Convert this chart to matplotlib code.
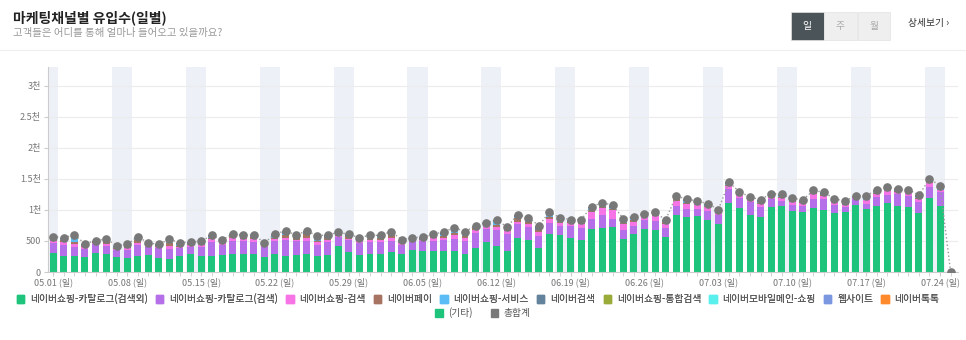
import matplotlib.pyplot as plt
import numpy as np
from matplotlib.patches import Patch, Rectangle
from matplotlib.lines import Line2D

plt.rcParams['font.family'] = ['Noto Sans CJK KR', 'DejaVu Sans']

# daily values 05.01 ~ 07.25
green = [310, 258, 258, 247, 306, 296, 247, 226, 263, 280, 231, 215, 253, 285, 263, 263, 280, 296, 285, 290, 247,
         285, 258, 280, 285, 263, 280, 414, 317, 280, 285, 296, 323, 285, 360, 344, 339, 339, 339, 296, 387, 484, 414,
         344, 543, 516, 387, 607, 591, 548, 511, 688, 704, 726, 532, 607, 694, 683, 559, 925, 892, 903, 839, 774,
         1113, 1032, 914, 892, 1048, 1059, 984, 962, 1032, 1005, 952, 968, 1081, 1016, 1064, 1113, 1064, 1048, 957, 1193, 1064,
         0]
purple = [150, 183, 150, 120, 140, 130, 103, 129, 178, 123, 156, 161, 129, 118, 140, 221, 150, 209, 210, 199, 151,
          210, 253, 215, 220, 178, 209, 145, 194, 182, 204, 188, 182, 156, 145, 151, 166, 177, 199, 199, 242, 204, 258,
          269, 231, 204, 188, 183, 151, 188, 193, 167, 215, 129, 145, 135, 150, 145, 156, 134, 124, 113, 145, 145,
          226, 156, 209, 151, 129, 80, 102, 108, 145, 167, 134, 75, 91, 86, 145, 134, 190, 183, 177, 178, 221,
          0]
pink = [45, 43, 42, 37, 22, 32, 26, 32, 32, 22, 16, 43, 27, 32, 38, 48, 43, 49, 37, 38, 32,
        32, 43, 27, 38, 37, 33, 27, 27, 33, 33, 38, 49, 32, 27, 27, 49, 38, 53, 59, 54, 54, 48,
        54, 38, 60, 65, 65, 43, 54, 70, 118, 108, 145, 92, 70, 43, 70, 65, 86, 75, 75, 59, 32,
        43, 59, 33, 54, 43, 54, 48, 43, 75, 48, 38, 43, 27, 54, 49, 54, 40, 54, 49, 59, 27,
        0]
brown = [30, 35, 30, 15, 15, 27, 16, 20, 43, 15, 10, 43, 15, 10, 10, 20, 10, 25, 20, 30, 5,
         25, 43, 25, 70, 20, 25, 25, 37, 25, 15, 30, 45, 10, 5, 10, 20, 25, 30, 30, 25, 20, 40,
         15, 59, 30, 30, 30, 25, 10, 15, 30, 25, 10, 15, 25, 10, 20, 25, 25, 15, 10, 25, 10,
         20, 15, 15, 10, 15, 10, 20, 10, 20, 15, 10, 30, 10, 10, 15, 20, 10, 10, 15, 20, 10,
         0]
lightblue = [10, 10, 85, 5, 5, 25, 5, 5, 10, 5, 5, 20, 20, 5, 5, 5, 5, 5, 15, 5, 15,
             20, 10, 5, 5, 40, 5, 5, 5, 5, 20, 5, 10, 10, 5, 5, 5, 15, 55, 10, 10, 10, 45,
             10, 10, 15, 10, 25, 10, 10, 10, 20, 15, 25, 25, 10, 10, 5, 5, 10, 30, 20, 10, 10,
             10, 10, 10, 20, 5, 15, 10, 10, 10, 10, 20, 5, 5, 25, 10, 10, 5, 5, 10, 15, 35,
             0]
slate = [25, 25, 35, 30, 17, 22, 28, 34, 40, 23, 28, 45, 25, 34, 39, 34, 28, 29, 24, 40, 18,
         43, 54, 45, 38, 48, 45, 24, 27, 29, 34, 34, 41, 28, 12, 22, 28, 56, 34, 56, 29, 24, 28,
         34, 38, 51, 67, 52, 56, 34, 45, 25, 51, 40, 51, 45, 34, 39, 28, 40, 41, 19, 24, 34,
         29, 23, 23, 39, 23, 30, 24, 28, 30, 39, 23, 24, 11, 39, 34, 34, 20, 28, 28, 35, 35,
         0]
n_days = len(green)
olive = [0] * n_days
cyan = [0] * n_days
web = [0] * n_days
orange = [0] * n_days
etc = [0] * n_days
orange[8] = 5
olive[24] = 5
olive[44] = 5
cyan[38] = 5
web[51] = 5

series_names = ['네이버쇼핑-카탈로그(검색외)', '네이버쇼핑-카탈로그(검색)', '네이버쇼핑-검색', '네이버페이',
                '네이버쇼핑-서비스', '네이버검색', '네이버쇼핑-통합검색', '네이버모바일메인-쇼핑', '웹사이트',
                '네이버톡톡', '(기타)']
series_vals = [green, purple, pink, brown, lightblue, slate, olive, cyan, web, orange, etc]
colors = ['#1ec47c', '#b56fe9', '#f674e6', '#a87462', '#5cbdf6', '#63829b', '#9aab3a', '#58efec',
          '#7b97e0', '#ff8a2c', '#1ec47c']

tick_days = [0, 7, 14, 21, 28, 35, 42, 49, 56, 63, 70, 77, 84]
tick_labels = ['05.01 (일)', '05.08 (일)', '05.15 (일)', '05.22 (일)', '05.29 (일)', '06.05 (일)',
               '06.12 (일)', '06.19 (일)', '06.26 (일)', '07.03 (일)', '07.10 (일)', '07.17 (일)',
               '07.24 (일)']
y_ticks = [0, 500, 1000, 1500, 2000, 2500, 3000]
y_labels = ['0', '500', '1천', '1.5천', '2천', '2.5천', '3천']

fig = plt.figure(figsize=(9.66, 3.4), dpi=100)
ax = fig.add_axes([48 / 966, 1 - 272 / 340, 910 / 966, 205 / 340])

x = np.arange(n_days)
# weekend bands (Sat+Sun)
for sun in tick_days:
    ax.axvspan(sun - 1.45, sun + 0.45, color='#edf1f7', zorder=0, lw=0)

bottom = np.zeros(n_days)
for vals, c in zip(series_vals, colors):
    v = np.array(vals, dtype=float)
    ax.bar(x, v, bottom=bottom, width=0.66, color=c, zorder=2, lw=0)
    bottom += v

total = bottom
ax.plot(x, total, ls=':', color='#999999', lw=1, zorder=3)
ax.plot(x, total, ls='none', marker='o', ms=5.2, color='#787878', zorder=4)

ax.set_xlim(-0.5, 85.7)
ax.set_ylim(0, 3300)
ax.set_yticks(y_ticks)
ax.set_yticklabels(y_labels)
ax.set_xticks(tick_days)
ax.set_xticklabels(tick_labels)
ax.set_xticks(x, minor=True)
ax.tick_params(axis='x', which='both', length=3, color='#cccccc', labelsize=6.5, labelcolor='#777777', pad=1)
ax.tick_params(axis='y', length=3, color='#cccccc', labelsize=6.5, labelcolor='#777777', pad=2)
ax.grid(axis='y', color='#ececec', lw=0.8, zorder=1)
for s in ['top', 'right']:
    ax.spines[s].set_visible(False)
ax.spines['left'].set_color('#cccccc')
ax.spines['bottom'].set_color('#cccccc')

# header
fig.text(13 / 966, 1 - 18 / 340, '마케팅채널별 유입수(일별)', fontsize=10, color='#222222', va='center', fontweight='bold')
fig.text(13 / 966, 1 - 33 / 340, '고객들은 어디를 통해 얼마나 들어오고 있을까요?', fontsize=7.5, color='#999999', va='center')
fig.add_artist(Line2D([0, 1], [1 - 50 / 340, 1 - 50 / 340], color='#eeeeee', lw=0.8))

btns = ['일', '주', '월']
for i, b in enumerate(btns):
    x0 = 791 + i * 33.3
    dark = i == 0
    fig.add_artist(Rectangle((x0 / 966, 1 - 40 / 340), 32.5 / 966, 28 / 340,
                             facecolor='#4b5559' if dark else '#efefef', edgecolor='#e3e3e3', lw=0.5))
    fig.text((x0 + 16) / 966, 1 - 26 / 340, b, fontsize=7, ha='center', va='center',
             color='#ffffff' if dark else '#aaaaaa')
fig.text(908 / 966, 1 - 23 / 340, '상세보기 ›', fontsize=7, color='#333333', va='center')

# legend
h1 = [Patch(color=c) for c in colors[:10]]
leg1 = fig.legend(h1, series_names[:10], loc='center', bbox_to_anchor=(0.495, 1 - 299 / 340), ncol=10,
                  frameon=False, fontsize=7, handlelength=0.75, handleheight=0.75, handletextpad=0.6,
                  columnspacing=0.85, labelcolor='#555555')
h2 = [Patch(color=colors[10]), Patch(color='#787878')]
fig.legend(h2, ['(기타)', '총합계'], loc='center', bbox_to_anchor=(0.5, 1 - 313 / 340), ncol=2,
           frameon=False, fontsize=7, handlelength=0.75, handleheight=0.75, handletextpad=0.6,
           columnspacing=1.8, labelcolor='#555555')
fig.add_artist(leg1)

fig.savefig('out.png', dpi=100)
